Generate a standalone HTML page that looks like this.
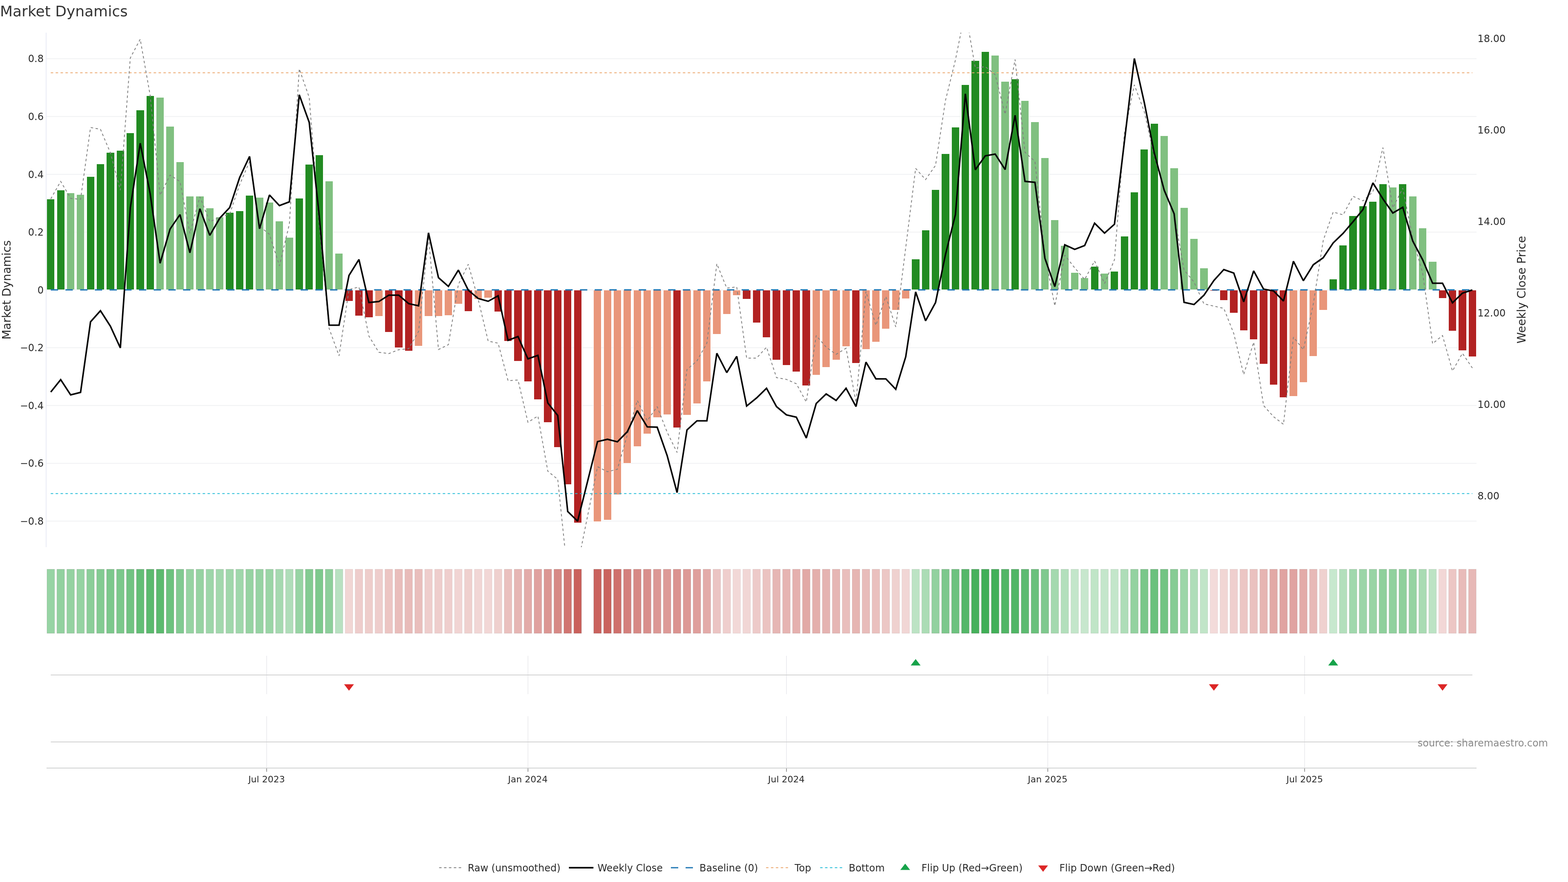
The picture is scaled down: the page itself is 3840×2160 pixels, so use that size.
<!DOCTYPE html>
<html lang="en"><head><meta charset="utf-8"><title>Market Dynamics</title>
<style>html,body{margin:0;padding:0;background:#fff;}body{width:3840px;height:2160px;overflow:hidden;}svg{display:block;font-family:'DejaVu Sans','Liberation Sans',Verdana,sans-serif;}text{white-space:pre;}</style>
</head><body>
<svg xmlns="http://www.w3.org/2000/svg" width="3840" height="2160" viewBox="0 0 3840 2160">
<rect x="0" y="0" width="3840" height="2160" fill="#ffffff"/>
<g shape-rendering="crispEdges">
<rect x="114" y="1275.24" width="3502" height="2" fill="#f0f1f3" shape-rendering="auto"/>
<rect x="114" y="1133.68" width="3502" height="2" fill="#f0f1f3" shape-rendering="auto"/>
<rect x="114" y="992.12" width="3502" height="2" fill="#f0f1f3" shape-rendering="auto"/>
<rect x="114" y="850.56" width="3502" height="2" fill="#f0f1f3" shape-rendering="auto"/>
<rect x="114" y="709.00" width="3502" height="2" fill="#f0f1f3" shape-rendering="auto"/>
<rect x="114" y="567.44" width="3502" height="2" fill="#f0f1f3" shape-rendering="auto"/>
<rect x="114" y="425.88" width="3502" height="2" fill="#f0f1f3" shape-rendering="auto"/>
<rect x="114" y="284.32" width="3502" height="2" fill="#f0f1f3" shape-rendering="auto"/>
<rect x="114" y="142.76" width="3502" height="2" fill="#f0f1f3" shape-rendering="auto"/>
<rect x="112" y="80" width="2" height="1260" fill="#e9ebf5"/>
</g>
<defs><clipPath id="cp"><rect x="114" y="80" width="3502" height="1260"/></clipPath></defs>
<g shape-rendering="crispEdges" clip-path="url(#cp)">
<rect x="115" y="488" width="18" height="221" fill="#228b22" stroke="#ffffff" stroke-width="2" paint-order="stroke"/>
<rect x="140" y="466" width="18" height="243" fill="#228b22" stroke="#ffffff" stroke-width="2" paint-order="stroke"/>
<rect x="164" y="473" width="18" height="236" fill="#80c080" stroke="#ffffff" stroke-width="2" paint-order="stroke"/>
<rect x="188" y="477" width="18" height="232" fill="#80c080" stroke="#ffffff" stroke-width="2" paint-order="stroke"/>
<rect x="213" y="433" width="18" height="276" fill="#228b22" stroke="#ffffff" stroke-width="2" paint-order="stroke"/>
<rect x="237" y="402" width="18" height="307" fill="#228b22" stroke="#ffffff" stroke-width="2" paint-order="stroke"/>
<rect x="261" y="374" width="19" height="335" fill="#228b22" stroke="#ffffff" stroke-width="2" paint-order="stroke"/>
<rect x="286" y="369" width="18" height="340" fill="#228b22" stroke="#ffffff" stroke-width="2" paint-order="stroke"/>
<rect x="310" y="326" width="18" height="383" fill="#228b22" stroke="#ffffff" stroke-width="2" paint-order="stroke"/>
<rect x="334" y="270" width="19" height="439" fill="#228b22" stroke="#ffffff" stroke-width="2" paint-order="stroke"/>
<rect x="359" y="235" width="18" height="474" fill="#228b22" stroke="#ffffff" stroke-width="2" paint-order="stroke"/>
<rect x="383" y="239" width="18" height="470" fill="#80c080" stroke="#ffffff" stroke-width="2" paint-order="stroke"/>
<rect x="407" y="310" width="19" height="399" fill="#80c080" stroke="#ffffff" stroke-width="2" paint-order="stroke"/>
<rect x="432" y="397" width="18" height="312" fill="#80c080" stroke="#ffffff" stroke-width="2" paint-order="stroke"/>
<rect x="456" y="481" width="18" height="228" fill="#80c080" stroke="#ffffff" stroke-width="2" paint-order="stroke"/>
<rect x="480" y="481" width="19" height="228" fill="#80c080" stroke="#ffffff" stroke-width="2" paint-order="stroke"/>
<rect x="505" y="510" width="18" height="199" fill="#80c080" stroke="#ffffff" stroke-width="2" paint-order="stroke"/>
<rect x="529" y="532" width="18" height="177" fill="#80c080" stroke="#ffffff" stroke-width="2" paint-order="stroke"/>
<rect x="553" y="521" width="19" height="188" fill="#228b22" stroke="#ffffff" stroke-width="2" paint-order="stroke"/>
<rect x="578" y="517" width="18" height="192" fill="#228b22" stroke="#ffffff" stroke-width="2" paint-order="stroke"/>
<rect x="602" y="479" width="18" height="230" fill="#228b22" stroke="#ffffff" stroke-width="2" paint-order="stroke"/>
<rect x="626" y="484" width="19" height="225" fill="#80c080" stroke="#ffffff" stroke-width="2" paint-order="stroke"/>
<rect x="651" y="496" width="18" height="213" fill="#80c080" stroke="#ffffff" stroke-width="2" paint-order="stroke"/>
<rect x="675" y="542" width="18" height="167" fill="#80c080" stroke="#ffffff" stroke-width="2" paint-order="stroke"/>
<rect x="699" y="582" width="19" height="127" fill="#80c080" stroke="#ffffff" stroke-width="2" paint-order="stroke"/>
<rect x="724" y="486" width="18" height="223" fill="#228b22" stroke="#ffffff" stroke-width="2" paint-order="stroke"/>
<rect x="748" y="403" width="18" height="306" fill="#228b22" stroke="#ffffff" stroke-width="2" paint-order="stroke"/>
<rect x="773" y="380" width="18" height="329" fill="#228b22" stroke="#ffffff" stroke-width="2" paint-order="stroke"/>
<rect x="797" y="444" width="18" height="265" fill="#80c080" stroke="#ffffff" stroke-width="2" paint-order="stroke"/>
<rect x="821" y="621" width="18" height="88" fill="#80c080" stroke="#ffffff" stroke-width="2" paint-order="stroke"/>
<rect x="846" y="711" width="18" height="26" fill="#b22222" stroke="#ffffff" stroke-width="2" paint-order="stroke"/>
<rect x="870" y="711" width="18" height="62" fill="#b22222" stroke="#ffffff" stroke-width="2" paint-order="stroke"/>
<rect x="894" y="711" width="19" height="66" fill="#b22222" stroke="#ffffff" stroke-width="2" paint-order="stroke"/>
<rect x="919" y="711" width="18" height="63" fill="#e9967a" stroke="#ffffff" stroke-width="2" paint-order="stroke"/>
<rect x="943" y="711" width="18" height="102" fill="#b22222" stroke="#ffffff" stroke-width="2" paint-order="stroke"/>
<rect x="967" y="711" width="19" height="140" fill="#b22222" stroke="#ffffff" stroke-width="2" paint-order="stroke"/>
<rect x="992" y="711" width="18" height="148" fill="#b22222" stroke="#ffffff" stroke-width="2" paint-order="stroke"/>
<rect x="1016" y="711" width="18" height="136" fill="#e9967a" stroke="#ffffff" stroke-width="2" paint-order="stroke"/>
<rect x="1040" y="711" width="19" height="63" fill="#e9967a" stroke="#ffffff" stroke-width="2" paint-order="stroke"/>
<rect x="1065" y="711" width="18" height="63" fill="#e9967a" stroke="#ffffff" stroke-width="2" paint-order="stroke"/>
<rect x="1089" y="711" width="18" height="61" fill="#e9967a" stroke="#ffffff" stroke-width="2" paint-order="stroke"/>
<rect x="1113" y="711" width="19" height="33" fill="#e9967a" stroke="#ffffff" stroke-width="2" paint-order="stroke"/>
<rect x="1138" y="711" width="18" height="51" fill="#b22222" stroke="#ffffff" stroke-width="2" paint-order="stroke"/>
<rect x="1162" y="711" width="18" height="21" fill="#e9967a" stroke="#ffffff" stroke-width="2" paint-order="stroke"/>
<rect x="1186" y="711" width="19" height="18" fill="#e9967a" stroke="#ffffff" stroke-width="2" paint-order="stroke"/>
<rect x="1211" y="711" width="18" height="52" fill="#b22222" stroke="#ffffff" stroke-width="2" paint-order="stroke"/>
<rect x="1235" y="711" width="18" height="124" fill="#b22222" stroke="#ffffff" stroke-width="2" paint-order="stroke"/>
<rect x="1259" y="711" width="19" height="173" fill="#b22222" stroke="#ffffff" stroke-width="2" paint-order="stroke"/>
<rect x="1284" y="711" width="18" height="223" fill="#b22222" stroke="#ffffff" stroke-width="2" paint-order="stroke"/>
<rect x="1308" y="711" width="18" height="267" fill="#b22222" stroke="#ffffff" stroke-width="2" paint-order="stroke"/>
<rect x="1332" y="711" width="19" height="323" fill="#b22222" stroke="#ffffff" stroke-width="2" paint-order="stroke"/>
<rect x="1357" y="711" width="18" height="384" fill="#b22222" stroke="#ffffff" stroke-width="2" paint-order="stroke"/>
<rect x="1381" y="711" width="18" height="475" fill="#b22222" stroke="#ffffff" stroke-width="2" paint-order="stroke"/>
<rect x="1406" y="711" width="18" height="569" fill="#b22222" stroke="#ffffff" stroke-width="2" paint-order="stroke"/>
<rect x="1454" y="711" width="18" height="566" fill="#e9967a" stroke="#ffffff" stroke-width="2" paint-order="stroke"/>
<rect x="1479" y="711" width="18" height="562" fill="#e9967a" stroke="#ffffff" stroke-width="2" paint-order="stroke"/>
<rect x="1503" y="711" width="18" height="500" fill="#e9967a" stroke="#ffffff" stroke-width="2" paint-order="stroke"/>
<rect x="1527" y="711" width="18" height="423" fill="#e9967a" stroke="#ffffff" stroke-width="2" paint-order="stroke"/>
<rect x="1552" y="711" width="18" height="382" fill="#e9967a" stroke="#ffffff" stroke-width="2" paint-order="stroke"/>
<rect x="1576" y="711" width="18" height="351" fill="#e9967a" stroke="#ffffff" stroke-width="2" paint-order="stroke"/>
<rect x="1600" y="711" width="19" height="311" fill="#e9967a" stroke="#ffffff" stroke-width="2" paint-order="stroke"/>
<rect x="1625" y="711" width="18" height="304" fill="#e9967a" stroke="#ffffff" stroke-width="2" paint-order="stroke"/>
<rect x="1649" y="711" width="18" height="336" fill="#b22222" stroke="#ffffff" stroke-width="2" paint-order="stroke"/>
<rect x="1673" y="711" width="19" height="305" fill="#e9967a" stroke="#ffffff" stroke-width="2" paint-order="stroke"/>
<rect x="1698" y="711" width="18" height="277" fill="#e9967a" stroke="#ffffff" stroke-width="2" paint-order="stroke"/>
<rect x="1722" y="711" width="18" height="223" fill="#e9967a" stroke="#ffffff" stroke-width="2" paint-order="stroke"/>
<rect x="1746" y="711" width="19" height="107" fill="#e9967a" stroke="#ffffff" stroke-width="2" paint-order="stroke"/>
<rect x="1771" y="711" width="18" height="58" fill="#e9967a" stroke="#ffffff" stroke-width="2" paint-order="stroke"/>
<rect x="1795" y="711" width="18" height="12" fill="#e9967a" stroke="#ffffff" stroke-width="2" paint-order="stroke"/>
<rect x="1819" y="711" width="19" height="21" fill="#b22222" stroke="#ffffff" stroke-width="2" paint-order="stroke"/>
<rect x="1844" y="711" width="18" height="79" fill="#b22222" stroke="#ffffff" stroke-width="2" paint-order="stroke"/>
<rect x="1868" y="711" width="18" height="115" fill="#b22222" stroke="#ffffff" stroke-width="2" paint-order="stroke"/>
<rect x="1892" y="711" width="19" height="170" fill="#b22222" stroke="#ffffff" stroke-width="2" paint-order="stroke"/>
<rect x="1917" y="711" width="18" height="183" fill="#b22222" stroke="#ffffff" stroke-width="2" paint-order="stroke"/>
<rect x="1941" y="711" width="18" height="199" fill="#b22222" stroke="#ffffff" stroke-width="2" paint-order="stroke"/>
<rect x="1965" y="711" width="19" height="233" fill="#b22222" stroke="#ffffff" stroke-width="2" paint-order="stroke"/>
<rect x="1990" y="711" width="18" height="207" fill="#e9967a" stroke="#ffffff" stroke-width="2" paint-order="stroke"/>
<rect x="2014" y="711" width="18" height="188" fill="#e9967a" stroke="#ffffff" stroke-width="2" paint-order="stroke"/>
<rect x="2039" y="711" width="18" height="170" fill="#e9967a" stroke="#ffffff" stroke-width="2" paint-order="stroke"/>
<rect x="2063" y="711" width="18" height="137" fill="#e9967a" stroke="#ffffff" stroke-width="2" paint-order="stroke"/>
<rect x="2087" y="711" width="18" height="178" fill="#b22222" stroke="#ffffff" stroke-width="2" paint-order="stroke"/>
<rect x="2112" y="711" width="18" height="144" fill="#e9967a" stroke="#ffffff" stroke-width="2" paint-order="stroke"/>
<rect x="2136" y="711" width="18" height="126" fill="#e9967a" stroke="#ffffff" stroke-width="2" paint-order="stroke"/>
<rect x="2160" y="711" width="18" height="94" fill="#e9967a" stroke="#ffffff" stroke-width="2" paint-order="stroke"/>
<rect x="2185" y="711" width="18" height="48" fill="#e9967a" stroke="#ffffff" stroke-width="2" paint-order="stroke"/>
<rect x="2209" y="711" width="18" height="20" fill="#e9967a" stroke="#ffffff" stroke-width="2" paint-order="stroke"/>
<rect x="2233" y="635" width="19" height="74" fill="#228b22" stroke="#ffffff" stroke-width="2" paint-order="stroke"/>
<rect x="2258" y="564" width="18" height="145" fill="#228b22" stroke="#ffffff" stroke-width="2" paint-order="stroke"/>
<rect x="2282" y="465" width="18" height="244" fill="#228b22" stroke="#ffffff" stroke-width="2" paint-order="stroke"/>
<rect x="2306" y="377" width="19" height="332" fill="#228b22" stroke="#ffffff" stroke-width="2" paint-order="stroke"/>
<rect x="2331" y="312" width="18" height="397" fill="#228b22" stroke="#ffffff" stroke-width="2" paint-order="stroke"/>
<rect x="2355" y="208" width="18" height="501" fill="#228b22" stroke="#ffffff" stroke-width="2" paint-order="stroke"/>
<rect x="2379" y="149" width="19" height="560" fill="#228b22" stroke="#ffffff" stroke-width="2" paint-order="stroke"/>
<rect x="2404" y="127" width="18" height="582" fill="#228b22" stroke="#ffffff" stroke-width="2" paint-order="stroke"/>
<rect x="2428" y="136" width="18" height="573" fill="#80c080" stroke="#ffffff" stroke-width="2" paint-order="stroke"/>
<rect x="2452" y="200" width="19" height="509" fill="#80c080" stroke="#ffffff" stroke-width="2" paint-order="stroke"/>
<rect x="2477" y="194" width="18" height="515" fill="#228b22" stroke="#ffffff" stroke-width="2" paint-order="stroke"/>
<rect x="2501" y="247" width="18" height="462" fill="#80c080" stroke="#ffffff" stroke-width="2" paint-order="stroke"/>
<rect x="2525" y="299" width="19" height="410" fill="#80c080" stroke="#ffffff" stroke-width="2" paint-order="stroke"/>
<rect x="2550" y="387" width="18" height="322" fill="#80c080" stroke="#ffffff" stroke-width="2" paint-order="stroke"/>
<rect x="2574" y="539" width="18" height="170" fill="#80c080" stroke="#ffffff" stroke-width="2" paint-order="stroke"/>
<rect x="2598" y="602" width="19" height="107" fill="#80c080" stroke="#ffffff" stroke-width="2" paint-order="stroke"/>
<rect x="2623" y="668" width="18" height="41" fill="#80c080" stroke="#ffffff" stroke-width="2" paint-order="stroke"/>
<rect x="2647" y="681" width="18" height="28" fill="#80c080" stroke="#ffffff" stroke-width="2" paint-order="stroke"/>
<rect x="2672" y="653" width="18" height="56" fill="#228b22" stroke="#ffffff" stroke-width="2" paint-order="stroke"/>
<rect x="2696" y="670" width="18" height="39" fill="#80c080" stroke="#ffffff" stroke-width="2" paint-order="stroke"/>
<rect x="2720" y="665" width="18" height="44" fill="#228b22" stroke="#ffffff" stroke-width="2" paint-order="stroke"/>
<rect x="2745" y="579" width="18" height="130" fill="#228b22" stroke="#ffffff" stroke-width="2" paint-order="stroke"/>
<rect x="2769" y="471" width="18" height="238" fill="#228b22" stroke="#ffffff" stroke-width="2" paint-order="stroke"/>
<rect x="2793" y="366" width="18" height="343" fill="#228b22" stroke="#ffffff" stroke-width="2" paint-order="stroke"/>
<rect x="2818" y="303" width="18" height="406" fill="#228b22" stroke="#ffffff" stroke-width="2" paint-order="stroke"/>
<rect x="2842" y="333" width="18" height="376" fill="#80c080" stroke="#ffffff" stroke-width="2" paint-order="stroke"/>
<rect x="2866" y="412" width="19" height="297" fill="#80c080" stroke="#ffffff" stroke-width="2" paint-order="stroke"/>
<rect x="2891" y="509" width="18" height="200" fill="#80c080" stroke="#ffffff" stroke-width="2" paint-order="stroke"/>
<rect x="2915" y="585" width="18" height="124" fill="#80c080" stroke="#ffffff" stroke-width="2" paint-order="stroke"/>
<rect x="2939" y="657" width="19" height="52" fill="#80c080" stroke="#ffffff" stroke-width="2" paint-order="stroke"/>
<rect x="2964" y="711" width="18" height="1" fill="#b22222" stroke="#ffffff" stroke-width="2" paint-order="stroke"/>
<rect x="2988" y="711" width="18" height="24" fill="#b22222" stroke="#ffffff" stroke-width="2" paint-order="stroke"/>
<rect x="3012" y="711" width="19" height="55" fill="#b22222" stroke="#ffffff" stroke-width="2" paint-order="stroke"/>
<rect x="3037" y="711" width="18" height="98" fill="#b22222" stroke="#ffffff" stroke-width="2" paint-order="stroke"/>
<rect x="3061" y="711" width="18" height="120" fill="#b22222" stroke="#ffffff" stroke-width="2" paint-order="stroke"/>
<rect x="3085" y="711" width="19" height="180" fill="#b22222" stroke="#ffffff" stroke-width="2" paint-order="stroke"/>
<rect x="3110" y="711" width="18" height="231" fill="#b22222" stroke="#ffffff" stroke-width="2" paint-order="stroke"/>
<rect x="3134" y="711" width="18" height="262" fill="#b22222" stroke="#ffffff" stroke-width="2" paint-order="stroke"/>
<rect x="3158" y="711" width="19" height="259" fill="#e9967a" stroke="#ffffff" stroke-width="2" paint-order="stroke"/>
<rect x="3183" y="711" width="18" height="225" fill="#e9967a" stroke="#ffffff" stroke-width="2" paint-order="stroke"/>
<rect x="3207" y="711" width="18" height="161" fill="#e9967a" stroke="#ffffff" stroke-width="2" paint-order="stroke"/>
<rect x="3231" y="711" width="19" height="48" fill="#e9967a" stroke="#ffffff" stroke-width="2" paint-order="stroke"/>
<rect x="3256" y="684" width="18" height="25" fill="#228b22" stroke="#ffffff" stroke-width="2" paint-order="stroke"/>
<rect x="3280" y="601" width="18" height="108" fill="#228b22" stroke="#ffffff" stroke-width="2" paint-order="stroke"/>
<rect x="3304" y="529" width="19" height="180" fill="#228b22" stroke="#ffffff" stroke-width="2" paint-order="stroke"/>
<rect x="3329" y="505" width="18" height="204" fill="#228b22" stroke="#ffffff" stroke-width="2" paint-order="stroke"/>
<rect x="3353" y="494" width="18" height="215" fill="#228b22" stroke="#ffffff" stroke-width="2" paint-order="stroke"/>
<rect x="3378" y="451" width="18" height="258" fill="#228b22" stroke="#ffffff" stroke-width="2" paint-order="stroke"/>
<rect x="3402" y="459" width="18" height="250" fill="#80c080" stroke="#ffffff" stroke-width="2" paint-order="stroke"/>
<rect x="3426" y="451" width="18" height="258" fill="#228b22" stroke="#ffffff" stroke-width="2" paint-order="stroke"/>
<rect x="3451" y="481" width="18" height="228" fill="#80c080" stroke="#ffffff" stroke-width="2" paint-order="stroke"/>
<rect x="3475" y="559" width="18" height="150" fill="#80c080" stroke="#ffffff" stroke-width="2" paint-order="stroke"/>
<rect x="3499" y="641" width="19" height="68" fill="#80c080" stroke="#ffffff" stroke-width="2" paint-order="stroke"/>
<rect x="3524" y="711" width="18" height="19" fill="#b22222" stroke="#ffffff" stroke-width="2" paint-order="stroke"/>
<rect x="3548" y="711" width="18" height="99" fill="#b22222" stroke="#ffffff" stroke-width="2" paint-order="stroke"/>
<rect x="3572" y="711" width="19" height="147" fill="#b22222" stroke="#ffffff" stroke-width="2" paint-order="stroke"/>
<rect x="3597" y="711" width="18" height="162" fill="#b22222" stroke="#ffffff" stroke-width="2" paint-order="stroke"/>
</g>
<path d="M124.3,709.9H3605.8" stroke="#1f77b4" stroke-width="3.2" stroke-dasharray="18,18" fill="none"/>
<path d="M124.3,178.2H3605.8" stroke="#eca86f" stroke-width="2" stroke-dasharray="6,6" fill="none"/>
<path d="M124.3,1208.7H3605.8" stroke="#25bdd8" stroke-width="2" stroke-dasharray="6,6" fill="none"/>
<g clip-path="url(#cp)" fill="none" stroke-linejoin="miter" stroke-miterlimit="2">
<path d="M124.3,487.0L148.6,444.2L173.0,485.7L197.3,488.2L221.7,312.2L246.0,316.6L270.4,374.3L294.7,465.8L319.1,142.0L343.4,96.0L367.8,233.9L392.1,478.3L416.5,428.6L440.8,444.7L465.1,571.4L489.5,482.0L513.8,542.9L538.2,531.7L562.5,524.2L586.9,452.2L611.2,395.4L635.6,554.0L659.9,573.9L684.3,650.9L708.6,549.1L732.9,168.6L757.3,238.9L781.6,549.1L806.0,804.3L830.3,871.4L854.7,709.3L879.0,702.6L903.4,823.0L927.7,862.7L952.1,866.0L976.4,856.5L1000.8,854.0L1025.1,811.8L1049.4,578.9L1073.8,856.0L1098.1,844.1L1122.5,696.9L1146.8,647.2L1171.2,733.5L1195.5,835.4L1219.9,840.4L1244.2,932.3L1268.6,930.6L1292.9,1034.2L1317.3,1018.8L1341.6,1154.0L1365.9,1173.9L1390.3,1408.7L1414.6,1384.8L1463.3,1142.9L1487.7,1155.3L1512.0,1149.1L1536.4,1064.6L1560.7,980.7L1585.1,1030.4L1609.4,995.7L1633.8,1058.4L1658.1,1108.1L1682.4,905.0L1706.8,883.9L1731.1,840.4L1755.5,646.0L1779.8,705.6L1804.2,702.6L1828.5,876.9L1852.9,876.9L1877.2,850.3L1901.6,924.8L1925.9,929.1L1950.2,939.8L1974.6,984.5L1998.9,821.7L2023.3,850.3L2047.6,867.7L2072.0,852.8L2096.3,985.7L2120.7,713.7L2145.0,796.9L2169.4,726.1L2193.7,800.6L2218.1,606.5L2242.4,412.4L2266.7,439.8L2291.1,405.0L2315.4,246.3L2339.8,147.0L2364.1,25.7L2388.5,166.8L2412.8,163.1L2437.2,183.0L2461.5,279.9L2485.9,145.7L2510.2,373.0L2534.6,395.4L2558.9,623.6L2583.2,749.1L2607.6,624.8L2631.9,655.9L2656.3,684.5L2680.6,639.0L2705.0,694.4L2729.3,636.0L2753.7,325.8L2778.0,207.8L2802.4,273.7L2826.7,383.0L2851.1,464.6L2875.4,524.2L2899.7,660.9L2924.1,690.7L2948.4,744.1L2972.8,749.7L2997.1,755.2L3021.5,816.8L3045.8,917.4L3070.2,837.9L3094.5,993.2L3118.9,1020.5L3143.2,1039.1L3167.6,825.5L3191.9,856.5L3216.2,744.7L3240.6,588.8L3264.9,519.3L3289.3,526.2L3313.6,480.7L3338.0,491.9L3362.3,469.6L3386.7,361.4L3411.0,509.3L3435.4,460.9L3459.7,583.9L3484.0,668.3L3508.4,841.6L3532.7,821.7L3557.1,908.7L3581.4,865.2L3605.8,901.2" stroke="#808080" stroke-width="2" stroke-dasharray="6,6"/>
<path d="M124.3,960.1L148.6,929.8L173.0,967.1L197.3,960.9L221.7,788.2L246.0,760.9L270.4,798.9L294.7,852.0L319.1,509.3L343.4,350.7L367.8,474.5L392.1,644.7L416.5,561.0L440.8,525.5L465.1,619.1L489.5,511.1L513.8,576.4L538.2,534.2L562.5,508.3L586.9,434.8L611.2,383.0L635.6,560.2L659.9,477.5L684.3,503.6L708.6,494.4L732.9,232.2L757.3,299.8L781.6,526.7L806.0,796.4L830.3,796.4L854.7,674.5L879.0,635.5L903.4,741.0L927.7,738.5L952.1,722.9L976.4,722.9L1000.8,743.5L1025.1,748.9L1049.4,570.2L1073.8,680.0L1098.1,701.4L1122.5,661.4L1146.8,710.6L1171.2,731.1L1195.5,737.8L1219.9,724.3L1244.2,833.4L1268.6,824.2L1292.9,878.9L1317.3,870.2L1341.6,987.0L1365.9,1017.5L1390.3,1252.7L1414.6,1276.3L1463.3,1081.5L1487.7,1075.8L1512.0,1082.0L1536.4,1057.1L1560.7,1005.5L1585.1,1045.5L1609.4,1046.2L1633.8,1115.5L1658.1,1206.2L1682.4,1052.9L1706.8,1030.6L1731.1,1030.6L1755.5,865.2L1779.8,912.4L1804.2,872.7L1828.5,994.4L1852.9,974.5L1877.2,950.9L1901.6,995.7L1925.9,1016.0L1950.2,1021.7L1974.6,1072.7L1998.9,988.2L2023.3,964.6L2047.6,980.7L2072.0,950.9L2096.3,995.7L2120.7,886.8L2145.0,927.8L2169.4,927.8L2193.7,953.4L2218.1,873.9L2242.4,714.9L2266.7,785.7L2291.1,741.0L2315.4,623.6L2339.8,525.5L2364.1,229.7L2388.5,415.8L2412.8,381.7L2437.2,377.3L2461.5,415.3L2485.9,282.4L2510.2,444.2L2534.6,446.5L2558.9,632.3L2583.2,701.9L2607.6,599.5L2631.9,610.7L2656.3,601.2L2680.6,546.6L2705.0,570.9L2729.3,549.1L2753.7,346.3L2778.0,143.2L2802.4,251.3L2826.7,374.3L2851.1,465.8L2875.4,523.5L2899.7,740.4L2924.1,745.8L2948.4,723.0L2972.8,687.0L2997.1,660.1L3021.5,668.8L3045.8,739.1L3070.2,663.4L3094.5,708.1L3118.9,712.5L3143.2,737.1L3167.6,639.8L3191.9,687.5L3216.2,648.4L3240.6,631.1L3264.9,595.0L3289.3,571.4L3313.6,542.9L3338.0,513.0L3362.3,448.0L3386.7,487.0L3411.0,521.7L3435.4,507.6L3459.7,590.1L3484.0,636.0L3508.4,693.7L3532.7,693.7L3557.1,741.6L3581.4,718.0L3605.8,710.1" stroke="#050505" stroke-width="3.8"/>
</g>
<g font-size="24" fill="#2b2b2b" text-anchor="end">
<text x="107" y="1284.8">−0.8</text>
<text x="107" y="1143.3">−0.6</text>
<text x="107" y="1001.7">−0.4</text>
<text x="107" y="860.2">−0.2</text>
<text x="107" y="718.6">0</text>
<text x="107" y="577.0">0.2</text>
<text x="107" y="435.5">0.4</text>
<text x="107" y="293.9">0.6</text>
<text x="107" y="152.4">0.8</text>
</g>
<g font-size="24" fill="#2b2b2b" text-anchor="start">
<text x="3618.5" y="1222.8">8.00</text>
<text x="3618.5" y="998.8">10.00</text>
<text x="3618.5" y="774.8">12.00</text>
<text x="3618.5" y="550.8">14.00</text>
<text x="3618.5" y="326.8">16.00</text>
<text x="3618.5" y="102.8">18.00</text>
</g>
<text transform="translate(26,710) rotate(-90)" font-size="28" fill="#2b2b2b" text-anchor="middle">Market Dynamics</text>
<text transform="translate(3736,709.5) rotate(-90)" font-size="28" fill="#2b2b2b" text-anchor="middle">Weekly Close Price</text>
<text x="0" y="40" font-size="36" fill="#333333">Market Dynamics</text>
<g>
<rect x="115.0" y="1394" width="18.7" height="157" fill="rgb(40,165,66)" fill-opacity="0.481" stroke="#5a5050" stroke-opacity="0.204" stroke-width="1"/>
<rect x="139.3" y="1394" width="18.7" height="157" fill="rgb(40,165,66)" fill-opacity="0.505" stroke="#5a5050" stroke-opacity="0.212" stroke-width="1"/>
<rect x="163.6" y="1394" width="18.7" height="157" fill="rgb(40,165,66)" fill-opacity="0.498" stroke="#5a5050" stroke-opacity="0.209" stroke-width="1"/>
<rect x="188.0" y="1394" width="18.7" height="157" fill="rgb(40,165,66)" fill-opacity="0.493" stroke="#5a5050" stroke-opacity="0.208" stroke-width="1"/>
<rect x="212.3" y="1394" width="18.7" height="157" fill="rgb(40,165,66)" fill-opacity="0.543" stroke="#5a5050" stroke-opacity="0.223" stroke-width="1"/>
<rect x="236.7" y="1394" width="18.7" height="157" fill="rgb(40,165,66)" fill-opacity="0.578" stroke="#5a5050" stroke-opacity="0.233" stroke-width="1"/>
<rect x="261.0" y="1394" width="18.7" height="157" fill="rgb(40,165,66)" fill-opacity="0.609" stroke="#5a5050" stroke-opacity="0.243" stroke-width="1"/>
<rect x="285.4" y="1394" width="18.7" height="157" fill="rgb(40,165,66)" fill-opacity="0.616" stroke="#5a5050" stroke-opacity="0.245" stroke-width="1"/>
<rect x="309.7" y="1394" width="18.7" height="157" fill="rgb(40,165,66)" fill-opacity="0.664" stroke="#5a5050" stroke-opacity="0.259" stroke-width="1"/>
<rect x="334.1" y="1394" width="18.7" height="157" fill="rgb(40,165,66)" fill-opacity="0.727" stroke="#5a5050" stroke-opacity="0.278" stroke-width="1"/>
<rect x="358.4" y="1394" width="18.7" height="157" fill="rgb(40,165,66)" fill-opacity="0.766" stroke="#5a5050" stroke-opacity="0.290" stroke-width="1"/>
<rect x="382.8" y="1394" width="18.7" height="157" fill="rgb(40,165,66)" fill-opacity="0.763" stroke="#5a5050" stroke-opacity="0.289" stroke-width="1"/>
<rect x="407.1" y="1394" width="18.7" height="157" fill="rgb(40,165,66)" fill-opacity="0.682" stroke="#5a5050" stroke-opacity="0.265" stroke-width="1"/>
<rect x="431.4" y="1394" width="18.7" height="157" fill="rgb(40,165,66)" fill-opacity="0.583" stroke="#5a5050" stroke-opacity="0.235" stroke-width="1"/>
<rect x="455.8" y="1394" width="18.7" height="157" fill="rgb(40,165,66)" fill-opacity="0.489" stroke="#5a5050" stroke-opacity="0.207" stroke-width="1"/>
<rect x="480.1" y="1394" width="18.7" height="157" fill="rgb(40,165,66)" fill-opacity="0.489" stroke="#5a5050" stroke-opacity="0.207" stroke-width="1"/>
<rect x="504.5" y="1394" width="18.7" height="157" fill="rgb(40,165,66)" fill-opacity="0.456" stroke="#5a5050" stroke-opacity="0.197" stroke-width="1"/>
<rect x="528.8" y="1394" width="18.7" height="157" fill="rgb(40,165,66)" fill-opacity="0.431" stroke="#5a5050" stroke-opacity="0.189" stroke-width="1"/>
<rect x="553.2" y="1394" width="18.7" height="157" fill="rgb(40,165,66)" fill-opacity="0.444" stroke="#5a5050" stroke-opacity="0.193" stroke-width="1"/>
<rect x="577.5" y="1394" width="18.7" height="157" fill="rgb(40,165,66)" fill-opacity="0.448" stroke="#5a5050" stroke-opacity="0.194" stroke-width="1"/>
<rect x="601.9" y="1394" width="18.7" height="157" fill="rgb(40,165,66)" fill-opacity="0.491" stroke="#5a5050" stroke-opacity="0.207" stroke-width="1"/>
<rect x="626.2" y="1394" width="18.7" height="157" fill="rgb(40,165,66)" fill-opacity="0.485" stroke="#5a5050" stroke-opacity="0.206" stroke-width="1"/>
<rect x="650.6" y="1394" width="18.7" height="157" fill="rgb(40,165,66)" fill-opacity="0.472" stroke="#5a5050" stroke-opacity="0.202" stroke-width="1"/>
<rect x="674.9" y="1394" width="18.7" height="157" fill="rgb(40,165,66)" fill-opacity="0.419" stroke="#5a5050" stroke-opacity="0.186" stroke-width="1"/>
<rect x="699.3" y="1394" width="18.7" height="157" fill="rgb(40,165,66)" fill-opacity="0.374" stroke="#5a5050" stroke-opacity="0.172" stroke-width="1"/>
<rect x="723.6" y="1394" width="18.7" height="157" fill="rgb(40,165,66)" fill-opacity="0.483" stroke="#5a5050" stroke-opacity="0.205" stroke-width="1"/>
<rect x="747.9" y="1394" width="18.7" height="157" fill="rgb(40,165,66)" fill-opacity="0.577" stroke="#5a5050" stroke-opacity="0.233" stroke-width="1"/>
<rect x="772.3" y="1394" width="18.7" height="157" fill="rgb(40,165,66)" fill-opacity="0.603" stroke="#5a5050" stroke-opacity="0.241" stroke-width="1"/>
<rect x="796.6" y="1394" width="18.7" height="157" fill="rgb(40,165,66)" fill-opacity="0.531" stroke="#5a5050" stroke-opacity="0.219" stroke-width="1"/>
<rect x="821.0" y="1394" width="18.7" height="157" fill="rgb(40,165,66)" fill-opacity="0.330" stroke="#5a5050" stroke-opacity="0.159" stroke-width="1"/>
<rect x="845.3" y="1394" width="18.7" height="157" fill="rgb(184,44,38)" fill-opacity="0.197" stroke="#5a5050" stroke-opacity="0.119" stroke-width="1"/>
<rect x="869.7" y="1394" width="18.7" height="157" fill="rgb(184,44,38)" fill-opacity="0.234" stroke="#5a5050" stroke-opacity="0.130" stroke-width="1"/>
<rect x="894.0" y="1394" width="18.7" height="157" fill="rgb(184,44,38)" fill-opacity="0.238" stroke="#5a5050" stroke-opacity="0.131" stroke-width="1"/>
<rect x="918.4" y="1394" width="18.7" height="157" fill="rgb(184,44,38)" fill-opacity="0.235" stroke="#5a5050" stroke-opacity="0.130" stroke-width="1"/>
<rect x="942.7" y="1394" width="18.7" height="157" fill="rgb(184,44,38)" fill-opacity="0.274" stroke="#5a5050" stroke-opacity="0.142" stroke-width="1"/>
<rect x="967.1" y="1394" width="18.7" height="157" fill="rgb(184,44,38)" fill-opacity="0.313" stroke="#5a5050" stroke-opacity="0.154" stroke-width="1"/>
<rect x="991.4" y="1394" width="18.7" height="157" fill="rgb(184,44,38)" fill-opacity="0.322" stroke="#5a5050" stroke-opacity="0.157" stroke-width="1"/>
<rect x="1015.8" y="1394" width="18.7" height="157" fill="rgb(184,44,38)" fill-opacity="0.310" stroke="#5a5050" stroke-opacity="0.153" stroke-width="1"/>
<rect x="1040.1" y="1394" width="18.7" height="157" fill="rgb(184,44,38)" fill-opacity="0.235" stroke="#5a5050" stroke-opacity="0.130" stroke-width="1"/>
<rect x="1064.4" y="1394" width="18.7" height="157" fill="rgb(184,44,38)" fill-opacity="0.235" stroke="#5a5050" stroke-opacity="0.130" stroke-width="1"/>
<rect x="1088.8" y="1394" width="18.7" height="157" fill="rgb(184,44,38)" fill-opacity="0.233" stroke="#5a5050" stroke-opacity="0.130" stroke-width="1"/>
<rect x="1113.1" y="1394" width="18.7" height="157" fill="rgb(184,44,38)" fill-opacity="0.205" stroke="#5a5050" stroke-opacity="0.121" stroke-width="1"/>
<rect x="1137.5" y="1394" width="18.7" height="157" fill="rgb(184,44,38)" fill-opacity="0.223" stroke="#5a5050" stroke-opacity="0.127" stroke-width="1"/>
<rect x="1161.8" y="1394" width="18.7" height="157" fill="rgb(184,44,38)" fill-opacity="0.192" stroke="#5a5050" stroke-opacity="0.118" stroke-width="1"/>
<rect x="1186.2" y="1394" width="18.7" height="157" fill="rgb(184,44,38)" fill-opacity="0.190" stroke="#5a5050" stroke-opacity="0.117" stroke-width="1"/>
<rect x="1210.5" y="1394" width="18.7" height="157" fill="rgb(184,44,38)" fill-opacity="0.224" stroke="#5a5050" stroke-opacity="0.127" stroke-width="1"/>
<rect x="1234.9" y="1394" width="18.7" height="157" fill="rgb(184,44,38)" fill-opacity="0.297" stroke="#5a5050" stroke-opacity="0.149" stroke-width="1"/>
<rect x="1259.2" y="1394" width="18.7" height="157" fill="rgb(184,44,38)" fill-opacity="0.347" stroke="#5a5050" stroke-opacity="0.164" stroke-width="1"/>
<rect x="1283.6" y="1394" width="18.7" height="157" fill="rgb(184,44,38)" fill-opacity="0.398" stroke="#5a5050" stroke-opacity="0.179" stroke-width="1"/>
<rect x="1307.9" y="1394" width="18.7" height="157" fill="rgb(184,44,38)" fill-opacity="0.443" stroke="#5a5050" stroke-opacity="0.193" stroke-width="1"/>
<rect x="1332.2" y="1394" width="18.7" height="157" fill="rgb(184,44,38)" fill-opacity="0.499" stroke="#5a5050" stroke-opacity="0.210" stroke-width="1"/>
<rect x="1356.6" y="1394" width="18.7" height="157" fill="rgb(184,44,38)" fill-opacity="0.561" stroke="#5a5050" stroke-opacity="0.228" stroke-width="1"/>
<rect x="1380.9" y="1394" width="18.7" height="157" fill="rgb(184,44,38)" fill-opacity="0.654" stroke="#5a5050" stroke-opacity="0.256" stroke-width="1"/>
<rect x="1405.3" y="1394" width="18.7" height="157" fill="rgb(184,44,38)" fill-opacity="0.750" stroke="#5a5050" stroke-opacity="0.285" stroke-width="1"/>
<rect x="1454.0" y="1394" width="18.7" height="157" fill="rgb(184,44,38)" fill-opacity="0.747" stroke="#5a5050" stroke-opacity="0.284" stroke-width="1"/>
<rect x="1478.3" y="1394" width="18.7" height="157" fill="rgb(184,44,38)" fill-opacity="0.742" stroke="#5a5050" stroke-opacity="0.283" stroke-width="1"/>
<rect x="1502.7" y="1394" width="18.7" height="157" fill="rgb(184,44,38)" fill-opacity="0.679" stroke="#5a5050" stroke-opacity="0.264" stroke-width="1"/>
<rect x="1527.0" y="1394" width="18.7" height="157" fill="rgb(184,44,38)" fill-opacity="0.601" stroke="#5a5050" stroke-opacity="0.240" stroke-width="1"/>
<rect x="1551.4" y="1394" width="18.7" height="157" fill="rgb(184,44,38)" fill-opacity="0.560" stroke="#5a5050" stroke-opacity="0.228" stroke-width="1"/>
<rect x="1575.7" y="1394" width="18.7" height="157" fill="rgb(184,44,38)" fill-opacity="0.528" stroke="#5a5050" stroke-opacity="0.218" stroke-width="1"/>
<rect x="1600.1" y="1394" width="18.7" height="157" fill="rgb(184,44,38)" fill-opacity="0.487" stroke="#5a5050" stroke-opacity="0.206" stroke-width="1"/>
<rect x="1624.4" y="1394" width="18.7" height="157" fill="rgb(184,44,38)" fill-opacity="0.480" stroke="#5a5050" stroke-opacity="0.204" stroke-width="1"/>
<rect x="1648.7" y="1394" width="18.7" height="157" fill="rgb(184,44,38)" fill-opacity="0.512" stroke="#5a5050" stroke-opacity="0.214" stroke-width="1"/>
<rect x="1673.1" y="1394" width="18.7" height="157" fill="rgb(184,44,38)" fill-opacity="0.481" stroke="#5a5050" stroke-opacity="0.204" stroke-width="1"/>
<rect x="1697.4" y="1394" width="18.7" height="157" fill="rgb(184,44,38)" fill-opacity="0.453" stroke="#5a5050" stroke-opacity="0.196" stroke-width="1"/>
<rect x="1721.8" y="1394" width="18.7" height="157" fill="rgb(184,44,38)" fill-opacity="0.398" stroke="#5a5050" stroke-opacity="0.179" stroke-width="1"/>
<rect x="1746.1" y="1394" width="18.7" height="157" fill="rgb(184,44,38)" fill-opacity="0.280" stroke="#5a5050" stroke-opacity="0.144" stroke-width="1"/>
<rect x="1770.5" y="1394" width="18.7" height="157" fill="rgb(184,44,38)" fill-opacity="0.230" stroke="#5a5050" stroke-opacity="0.129" stroke-width="1"/>
<rect x="1794.8" y="1394" width="18.7" height="157" fill="rgb(184,44,38)" fill-opacity="0.183" stroke="#5a5050" stroke-opacity="0.115" stroke-width="1"/>
<rect x="1819.2" y="1394" width="18.7" height="157" fill="rgb(184,44,38)" fill-opacity="0.192" stroke="#5a5050" stroke-opacity="0.118" stroke-width="1"/>
<rect x="1843.5" y="1394" width="18.7" height="157" fill="rgb(184,44,38)" fill-opacity="0.252" stroke="#5a5050" stroke-opacity="0.135" stroke-width="1"/>
<rect x="1867.9" y="1394" width="18.7" height="157" fill="rgb(184,44,38)" fill-opacity="0.288" stroke="#5a5050" stroke-opacity="0.146" stroke-width="1"/>
<rect x="1892.2" y="1394" width="18.7" height="157" fill="rgb(184,44,38)" fill-opacity="0.344" stroke="#5a5050" stroke-opacity="0.163" stroke-width="1"/>
<rect x="1916.6" y="1394" width="18.7" height="157" fill="rgb(184,44,38)" fill-opacity="0.357" stroke="#5a5050" stroke-opacity="0.167" stroke-width="1"/>
<rect x="1940.9" y="1394" width="18.7" height="157" fill="rgb(184,44,38)" fill-opacity="0.373" stroke="#5a5050" stroke-opacity="0.172" stroke-width="1"/>
<rect x="1965.2" y="1394" width="18.7" height="157" fill="rgb(184,44,38)" fill-opacity="0.408" stroke="#5a5050" stroke-opacity="0.182" stroke-width="1"/>
<rect x="1989.6" y="1394" width="18.7" height="157" fill="rgb(184,44,38)" fill-opacity="0.381" stroke="#5a5050" stroke-opacity="0.174" stroke-width="1"/>
<rect x="2013.9" y="1394" width="18.7" height="157" fill="rgb(184,44,38)" fill-opacity="0.362" stroke="#5a5050" stroke-opacity="0.169" stroke-width="1"/>
<rect x="2038.3" y="1394" width="18.7" height="157" fill="rgb(184,44,38)" fill-opacity="0.344" stroke="#5a5050" stroke-opacity="0.163" stroke-width="1"/>
<rect x="2062.6" y="1394" width="18.7" height="157" fill="rgb(184,44,38)" fill-opacity="0.310" stroke="#5a5050" stroke-opacity="0.153" stroke-width="1"/>
<rect x="2087.0" y="1394" width="18.7" height="157" fill="rgb(184,44,38)" fill-opacity="0.352" stroke="#5a5050" stroke-opacity="0.166" stroke-width="1"/>
<rect x="2111.3" y="1394" width="18.7" height="157" fill="rgb(184,44,38)" fill-opacity="0.317" stroke="#5a5050" stroke-opacity="0.155" stroke-width="1"/>
<rect x="2135.7" y="1394" width="18.7" height="157" fill="rgb(184,44,38)" fill-opacity="0.299" stroke="#5a5050" stroke-opacity="0.150" stroke-width="1"/>
<rect x="2160.0" y="1394" width="18.7" height="157" fill="rgb(184,44,38)" fill-opacity="0.266" stroke="#5a5050" stroke-opacity="0.140" stroke-width="1"/>
<rect x="2184.4" y="1394" width="18.7" height="157" fill="rgb(184,44,38)" fill-opacity="0.220" stroke="#5a5050" stroke-opacity="0.126" stroke-width="1"/>
<rect x="2208.7" y="1394" width="18.7" height="157" fill="rgb(184,44,38)" fill-opacity="0.191" stroke="#5a5050" stroke-opacity="0.117" stroke-width="1"/>
<rect x="2233.1" y="1394" width="18.7" height="157" fill="rgb(40,165,66)" fill-opacity="0.314" stroke="#5a5050" stroke-opacity="0.154" stroke-width="1"/>
<rect x="2257.4" y="1394" width="18.7" height="157" fill="rgb(40,165,66)" fill-opacity="0.394" stroke="#5a5050" stroke-opacity="0.178" stroke-width="1"/>
<rect x="2281.7" y="1394" width="18.7" height="157" fill="rgb(40,165,66)" fill-opacity="0.507" stroke="#5a5050" stroke-opacity="0.212" stroke-width="1"/>
<rect x="2306.1" y="1394" width="18.7" height="157" fill="rgb(40,165,66)" fill-opacity="0.606" stroke="#5a5050" stroke-opacity="0.242" stroke-width="1"/>
<rect x="2330.4" y="1394" width="18.7" height="157" fill="rgb(40,165,66)" fill-opacity="0.680" stroke="#5a5050" stroke-opacity="0.264" stroke-width="1"/>
<rect x="2354.8" y="1394" width="18.7" height="157" fill="rgb(40,165,66)" fill-opacity="0.797" stroke="#5a5050" stroke-opacity="0.299" stroke-width="1"/>
<rect x="2379.1" y="1394" width="18.7" height="157" fill="rgb(40,165,66)" fill-opacity="0.864" stroke="#5a5050" stroke-opacity="0.319" stroke-width="1"/>
<rect x="2403.5" y="1394" width="18.7" height="157" fill="rgb(40,165,66)" fill-opacity="0.889" stroke="#5a5050" stroke-opacity="0.327" stroke-width="1"/>
<rect x="2427.8" y="1394" width="18.7" height="157" fill="rgb(40,165,66)" fill-opacity="0.878" stroke="#5a5050" stroke-opacity="0.324" stroke-width="1"/>
<rect x="2452.2" y="1394" width="18.7" height="157" fill="rgb(40,165,66)" fill-opacity="0.806" stroke="#5a5050" stroke-opacity="0.302" stroke-width="1"/>
<rect x="2476.5" y="1394" width="18.7" height="157" fill="rgb(40,165,66)" fill-opacity="0.813" stroke="#5a5050" stroke-opacity="0.304" stroke-width="1"/>
<rect x="2500.9" y="1394" width="18.7" height="157" fill="rgb(40,165,66)" fill-opacity="0.754" stroke="#5a5050" stroke-opacity="0.286" stroke-width="1"/>
<rect x="2525.2" y="1394" width="18.7" height="157" fill="rgb(40,165,66)" fill-opacity="0.694" stroke="#5a5050" stroke-opacity="0.268" stroke-width="1"/>
<rect x="2549.6" y="1394" width="18.7" height="157" fill="rgb(40,165,66)" fill-opacity="0.595" stroke="#5a5050" stroke-opacity="0.238" stroke-width="1"/>
<rect x="2573.9" y="1394" width="18.7" height="157" fill="rgb(40,165,66)" fill-opacity="0.423" stroke="#5a5050" stroke-opacity="0.187" stroke-width="1"/>
<rect x="2598.2" y="1394" width="18.7" height="157" fill="rgb(40,165,66)" fill-opacity="0.352" stroke="#5a5050" stroke-opacity="0.165" stroke-width="1"/>
<rect x="2622.6" y="1394" width="18.7" height="157" fill="rgb(40,165,66)" fill-opacity="0.278" stroke="#5a5050" stroke-opacity="0.143" stroke-width="1"/>
<rect x="2646.9" y="1394" width="18.7" height="157" fill="rgb(40,165,66)" fill-opacity="0.263" stroke="#5a5050" stroke-opacity="0.139" stroke-width="1"/>
<rect x="2671.3" y="1394" width="18.7" height="157" fill="rgb(40,165,66)" fill-opacity="0.295" stroke="#5a5050" stroke-opacity="0.148" stroke-width="1"/>
<rect x="2695.6" y="1394" width="18.7" height="157" fill="rgb(40,165,66)" fill-opacity="0.275" stroke="#5a5050" stroke-opacity="0.143" stroke-width="1"/>
<rect x="2720.0" y="1394" width="18.7" height="157" fill="rgb(40,165,66)" fill-opacity="0.280" stroke="#5a5050" stroke-opacity="0.144" stroke-width="1"/>
<rect x="2744.3" y="1394" width="18.7" height="157" fill="rgb(40,165,66)" fill-opacity="0.378" stroke="#5a5050" stroke-opacity="0.173" stroke-width="1"/>
<rect x="2768.7" y="1394" width="18.7" height="157" fill="rgb(40,165,66)" fill-opacity="0.500" stroke="#5a5050" stroke-opacity="0.210" stroke-width="1"/>
<rect x="2793.0" y="1394" width="18.7" height="157" fill="rgb(40,165,66)" fill-opacity="0.619" stroke="#5a5050" stroke-opacity="0.246" stroke-width="1"/>
<rect x="2817.4" y="1394" width="18.7" height="157" fill="rgb(40,165,66)" fill-opacity="0.689" stroke="#5a5050" stroke-opacity="0.267" stroke-width="1"/>
<rect x="2841.7" y="1394" width="18.7" height="157" fill="rgb(40,165,66)" fill-opacity="0.656" stroke="#5a5050" stroke-opacity="0.257" stroke-width="1"/>
<rect x="2866.0" y="1394" width="18.7" height="157" fill="rgb(40,165,66)" fill-opacity="0.566" stroke="#5a5050" stroke-opacity="0.230" stroke-width="1"/>
<rect x="2890.4" y="1394" width="18.7" height="157" fill="rgb(40,165,66)" fill-opacity="0.457" stroke="#5a5050" stroke-opacity="0.197" stroke-width="1"/>
<rect x="2914.7" y="1394" width="18.7" height="157" fill="rgb(40,165,66)" fill-opacity="0.371" stroke="#5a5050" stroke-opacity="0.171" stroke-width="1"/>
<rect x="2939.1" y="1394" width="18.7" height="157" fill="rgb(40,165,66)" fill-opacity="0.290" stroke="#5a5050" stroke-opacity="0.147" stroke-width="1"/>
<rect x="2963.4" y="1394" width="18.7" height="157" fill="rgb(184,44,38)" fill-opacity="0.172" stroke="#5a5050" stroke-opacity="0.111" stroke-width="1"/>
<rect x="2987.8" y="1394" width="18.7" height="157" fill="rgb(184,44,38)" fill-opacity="0.196" stroke="#5a5050" stroke-opacity="0.119" stroke-width="1"/>
<rect x="3012.1" y="1394" width="18.7" height="157" fill="rgb(184,44,38)" fill-opacity="0.227" stroke="#5a5050" stroke-opacity="0.128" stroke-width="1"/>
<rect x="3036.5" y="1394" width="18.7" height="157" fill="rgb(184,44,38)" fill-opacity="0.271" stroke="#5a5050" stroke-opacity="0.141" stroke-width="1"/>
<rect x="3060.8" y="1394" width="18.7" height="157" fill="rgb(184,44,38)" fill-opacity="0.293" stroke="#5a5050" stroke-opacity="0.148" stroke-width="1"/>
<rect x="3085.2" y="1394" width="18.7" height="157" fill="rgb(184,44,38)" fill-opacity="0.354" stroke="#5a5050" stroke-opacity="0.166" stroke-width="1"/>
<rect x="3109.5" y="1394" width="18.7" height="157" fill="rgb(184,44,38)" fill-opacity="0.406" stroke="#5a5050" stroke-opacity="0.182" stroke-width="1"/>
<rect x="3133.9" y="1394" width="18.7" height="157" fill="rgb(184,44,38)" fill-opacity="0.437" stroke="#5a5050" stroke-opacity="0.191" stroke-width="1"/>
<rect x="3158.2" y="1394" width="18.7" height="157" fill="rgb(184,44,38)" fill-opacity="0.434" stroke="#5a5050" stroke-opacity="0.190" stroke-width="1"/>
<rect x="3182.5" y="1394" width="18.7" height="157" fill="rgb(184,44,38)" fill-opacity="0.399" stroke="#5a5050" stroke-opacity="0.180" stroke-width="1"/>
<rect x="3206.9" y="1394" width="18.7" height="157" fill="rgb(184,44,38)" fill-opacity="0.335" stroke="#5a5050" stroke-opacity="0.161" stroke-width="1"/>
<rect x="3231.2" y="1394" width="18.7" height="157" fill="rgb(184,44,38)" fill-opacity="0.220" stroke="#5a5050" stroke-opacity="0.126" stroke-width="1"/>
<rect x="3255.6" y="1394" width="18.7" height="157" fill="rgb(40,165,66)" fill-opacity="0.260" stroke="#5a5050" stroke-opacity="0.138" stroke-width="1"/>
<rect x="3279.9" y="1394" width="18.7" height="157" fill="rgb(40,165,66)" fill-opacity="0.353" stroke="#5a5050" stroke-opacity="0.166" stroke-width="1"/>
<rect x="3304.3" y="1394" width="18.7" height="157" fill="rgb(40,165,66)" fill-opacity="0.434" stroke="#5a5050" stroke-opacity="0.190" stroke-width="1"/>
<rect x="3328.6" y="1394" width="18.7" height="157" fill="rgb(40,165,66)" fill-opacity="0.462" stroke="#5a5050" stroke-opacity="0.198" stroke-width="1"/>
<rect x="3353.0" y="1394" width="18.7" height="157" fill="rgb(40,165,66)" fill-opacity="0.475" stroke="#5a5050" stroke-opacity="0.202" stroke-width="1"/>
<rect x="3377.3" y="1394" width="18.7" height="157" fill="rgb(40,165,66)" fill-opacity="0.522" stroke="#5a5050" stroke-opacity="0.217" stroke-width="1"/>
<rect x="3401.7" y="1394" width="18.7" height="157" fill="rgb(40,165,66)" fill-opacity="0.514" stroke="#5a5050" stroke-opacity="0.214" stroke-width="1"/>
<rect x="3426.0" y="1394" width="18.7" height="157" fill="rgb(40,165,66)" fill-opacity="0.523" stroke="#5a5050" stroke-opacity="0.217" stroke-width="1"/>
<rect x="3450.4" y="1394" width="18.7" height="157" fill="rgb(40,165,66)" fill-opacity="0.489" stroke="#5a5050" stroke-opacity="0.207" stroke-width="1"/>
<rect x="3474.7" y="1394" width="18.7" height="157" fill="rgb(40,165,66)" fill-opacity="0.401" stroke="#5a5050" stroke-opacity="0.180" stroke-width="1"/>
<rect x="3499.0" y="1394" width="18.7" height="157" fill="rgb(40,165,66)" fill-opacity="0.308" stroke="#5a5050" stroke-opacity="0.152" stroke-width="1"/>
<rect x="3523.4" y="1394" width="18.7" height="157" fill="rgb(184,44,38)" fill-opacity="0.190" stroke="#5a5050" stroke-opacity="0.117" stroke-width="1"/>
<rect x="3547.7" y="1394" width="18.7" height="157" fill="rgb(184,44,38)" fill-opacity="0.272" stroke="#5a5050" stroke-opacity="0.141" stroke-width="1"/>
<rect x="3572.1" y="1394" width="18.7" height="157" fill="rgb(184,44,38)" fill-opacity="0.320" stroke="#5a5050" stroke-opacity="0.156" stroke-width="1"/>
<rect x="3596.4" y="1394" width="18.7" height="157" fill="rgb(184,44,38)" fill-opacity="0.336" stroke="#5a5050" stroke-opacity="0.161" stroke-width="1"/>
</g>
<g shape-rendering="crispEdges">
<rect x="652" y="1606" width="2" height="94" fill="#ededf0"/>
<rect x="652" y="1754" width="2" height="126" fill="#ededf0"/>
<rect x="1292" y="1606" width="2" height="94" fill="#ededf0"/>
<rect x="1292" y="1754" width="2" height="126" fill="#ededf0"/>
<rect x="1925" y="1606" width="2" height="94" fill="#ededf0"/>
<rect x="1925" y="1754" width="2" height="126" fill="#ededf0"/>
<rect x="2565" y="1606" width="2" height="94" fill="#ededf0"/>
<rect x="2565" y="1754" width="2" height="126" fill="#ededf0"/>
<rect x="3194" y="1606" width="2" height="94" fill="#ededf0"/>
<rect x="3194" y="1754" width="2" height="126" fill="#ededf0"/>
</g>
<path d="M124.3,1652.9H3605.8" stroke="#d1d1d1" stroke-width="2" fill="none"/>
<path d="M124.3,1817H3605.8" stroke="#d1d1d1" stroke-width="2" fill="none"/>
<rect x="114" y="1880" width="3502" height="2" fill="#cfd1d1" shape-rendering="crispEdges"/>
<g shape-rendering="crispEdges">
<rect x="652" y="1882" width="2" height="8" fill="#999999"/>
<rect x="1292" y="1882" width="2" height="8" fill="#999999"/>
<rect x="1925" y="1882" width="2" height="8" fill="#999999"/>
<rect x="2565" y="1882" width="2" height="8" fill="#999999"/>
<rect x="3194" y="1882" width="2" height="8" fill="#999999"/>
</g>
<g font-size="22" fill="#2b2b2b" text-anchor="middle">
<text x="652.9" y="1916.4">Jul 2023</text>
<text x="1292.8" y="1916.4">Jan 2024</text>
<text x="1925.8" y="1916.4">Jul 2024</text>
<text x="2565.7" y="1916.4">Jan 2025</text>
<text x="3195.2" y="1916.4">Jul 2025</text>
</g>
<path d="M2230.28,1629.75H2254.53L2242.40,1614.00Z" fill="#16a34a"/>
<path d="M3252.81,1629.75H3277.06L3264.93,1614.00Z" fill="#16a34a"/>
<path d="M842.56,1675.75H866.80L854.68,1691.50Z" fill="#dc2626"/>
<path d="M2960.66,1675.75H2984.91L2972.78,1691.50Z" fill="#dc2626"/>
<path d="M3520.62,1675.75H3544.86L3532.74,1691.50Z" fill="#dc2626"/>
<text x="3791" y="1827.6" font-size="24" fill="#8a8a8a" text-anchor="end">source: sharemaestro.com</text>
<path d="M1075.4,2125h60" stroke="#808080" stroke-width="2" stroke-dasharray="6,6" fill="none"/>
<text x="1145.4" y="2133.8" font-size="24" fill="#2b2b2b">Raw (unsmoothed)</text>
<path d="M1393.3,2125h60" stroke="#050505" stroke-width="3.8" fill="none"/>
<text x="1463.3" y="2133.8" font-size="24" fill="#2b2b2b">Weekly Close</text>
<path d="M1643.0,2125h60" stroke="#1f77b4" stroke-width="3.2" stroke-dasharray="18,18" fill="none"/>
<text x="1713.0" y="2133.8" font-size="24" fill="#2b2b2b">Baseline (0)</text>
<path d="M1876.0,2125h60" stroke="#eca86f" stroke-width="2" stroke-dasharray="6,6" fill="none"/>
<text x="1946.0" y="2133.8" font-size="24" fill="#2b2b2b">Top</text>
<path d="M2008.5,2125h60" stroke="#25bdd8" stroke-width="2" stroke-dasharray="6,6" fill="none"/>
<text x="2078.5" y="2133.8" font-size="24" fill="#2b2b2b">Bottom</text>
<path d="M2204.79,2130.50H2228.81L2216.80,2114.90Z" fill="#16a34a"/>
<text x="2256.8" y="2133.8" font-size="24" fill="#2b2b2b">Flip Up (Red→Green)</text>
<path d="M2542.49,2119.50H2566.51L2554.50,2135.10Z" fill="#dc2626"/>
<text x="2594.5" y="2133.8" font-size="24" fill="#2b2b2b">Flip Down (Green→Red)</text>
</svg>
</body></html>
